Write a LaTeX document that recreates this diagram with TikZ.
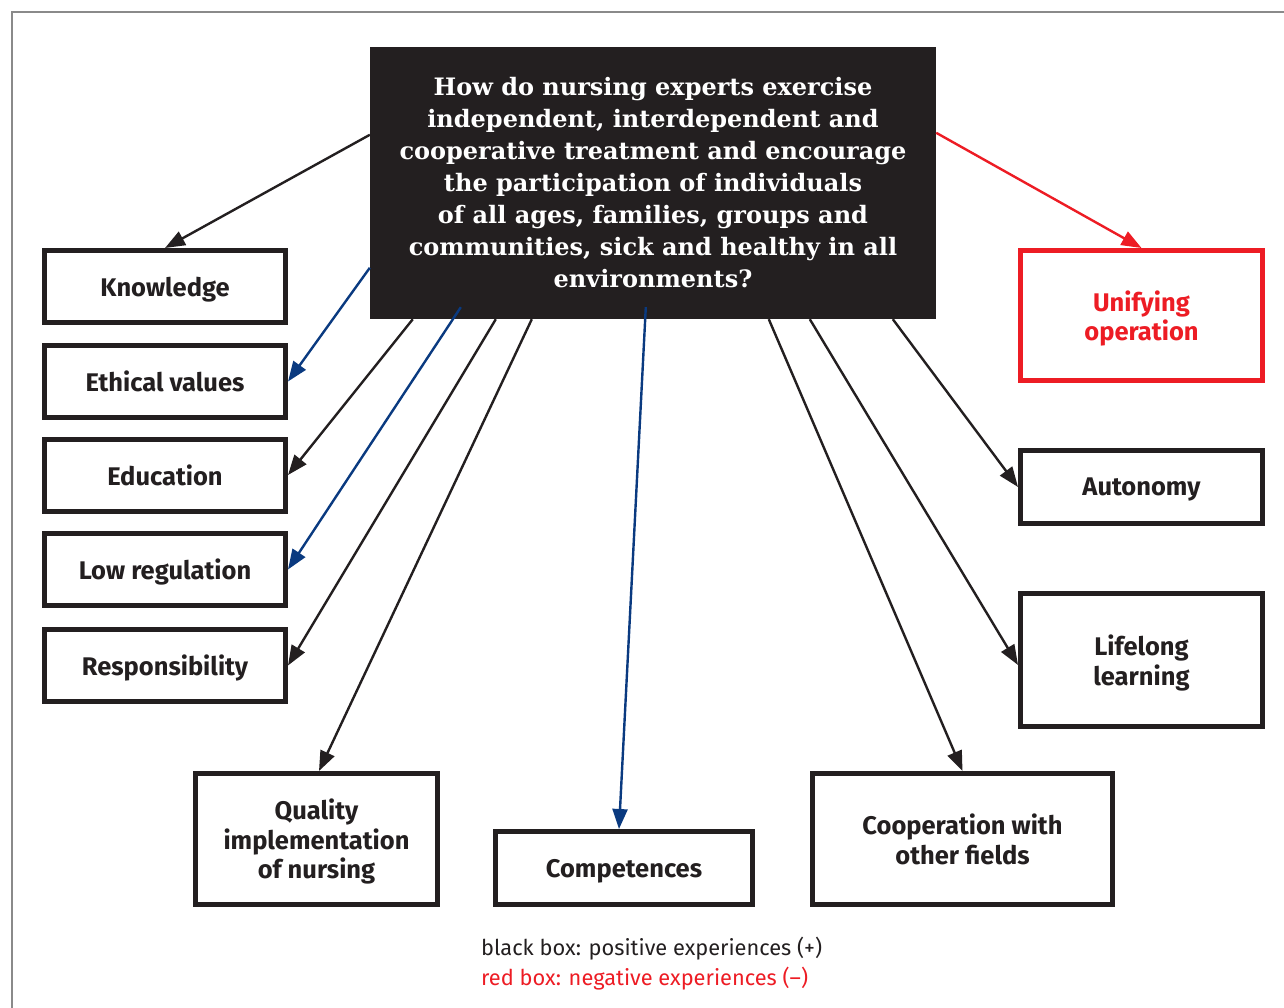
\documentclass[tikz,border=0pt]{standalone}
\usepackage{fontspec}
\setmainfont{Fira Sans}
\newfontfamily\slabfont{DejaVu Serif}
\usetikzlibrary{arrows.meta,calc}
\definecolor{ink}{HTML}{231F20}
\definecolor{alarm}{HTML}{ED1C24}
\definecolor{navy}{HTML}{0A3A80}
\definecolor{framegray}{HTML}{8A8A8A}
\begin{document}
\begin{tikzpicture}[x=1pt,y=-1pt,
  topic/.style={draw=ink,line width=5pt,fill=white,text=ink,align=center,
    font=\fontsize{25.5}{29.5}\selectfont\bfseries,inner sep=0pt,text depth=0pt},
  redtopic/.style={topic,draw=alarm,text=alarm},
  link/.style={line width=2.4pt,draw=ink,-{Triangle[length=20pt,width=15pt]}},
  bluelink/.style={link,draw=navy},
  redlink/.style={link,draw=alarm},
  legend/.style={anchor=west,inner sep=0pt,font=\fontsize{21.8}{30}\selectfont}]
\useasboundingbox (0,0) rectangle (1284,1008);
% open frame
\draw[framegray,line width=1.5pt] (12,1008) -- (12,12) -- (1284,12);

% central question
\node[fill=ink,text=white,minimum width=566pt,minimum height=272pt,inner sep=0pt,
  align=center,font=\slabfont\bfseries\fontsize{24}{32}\selectfont] (q) at (653,183)
  {How do nursing experts exercise\\independent, interdependent and\\
   cooperative treatment and encourage\\the participation of individuals\\
   of all ages, families, groups and\\communities, sick and healthy in all\\
   environments?};

% left column
\node[topic,minimum width=241pt,minimum height=72pt] (know) at (165,286.5) {Knowledge};
\node[topic,minimum width=241pt,minimum height=72pt] (eth)  at (165,381.5) {Ethical values};
\node[topic,minimum width=241pt,minimum height=72pt] (edu)  at (165,475) {Education};
\node[topic,minimum width=241pt,minimum height=72pt] (low)  at (165,569.5) {Low regulation};
\node[topic,minimum width=241pt,minimum height=72pt] (resp) at (165,665.5) {Responsibility};

% right column
\node[redtopic,minimum width=242pt,minimum height=130pt] (unif) at (1141.5,315.5) {Unifying\\operation};
\node[topic,minimum width=242pt,minimum height=73pt] (auto) at (1141.5,487) {Autonomy};
\node[topic,minimum width=242pt,minimum height=133pt] (life) at (1141.5,660) {Lifelong\\learning};

% bottom row
\node[topic,minimum width=242pt,minimum height=131pt] (qual) at (316.5,839) {Quality\\implementation\\of nursing};
\node[topic,minimum width=257pt,minimum height=73pt] (comp) at (624,868) {Competences};
\node[topic,minimum width=300pt,minimum height=131pt] (coop) at (962.5,839) {Cooperation with\\other fields};

% connectors
\draw[link]     ($(q.north west)+(0,88)$)   -- (know.north);
\draw[bluelink] ($(q.north west)+(0,221)$)  -- (eth.east);
\draw[link]     ($(q.south west)+(43,0)$)   -- (edu.east);
\draw[bluelink] ($(q.south west)+(91,-12)$) -- (low.east);
\draw[link]     ($(q.south west)+(126,0)$)  -- (resp.east);
\draw[link]     ($(q.south west)+(162,0)$)  -- ($(qual.north)+(2.5,0)$);
\draw[bluelink] ($(q.south west)+(276,-12)$) -- ($(comp.north)+(-5,0)$);
\draw[link]     ($(q.south west)+(399,0)$)  -- (coop.north);
\draw[link]     ($(q.south west)+(440,0)$)  -- ($(life.west)+(0,5)$);
\draw[link]     ($(q.south west)+(523,0)$)  -- (auto.west);
\draw[redlink]  ($(q.north east)+(0,86)$)   -- (unif.north);

% legend
\node[legend,text=ink]   (leg1) at (481,949) {black box: positive experiences (+)};
\node[legend,text=alarm] (leg2) at (481,979) {red box: negative experiences (–)};
\end{tikzpicture}
\end{document}
